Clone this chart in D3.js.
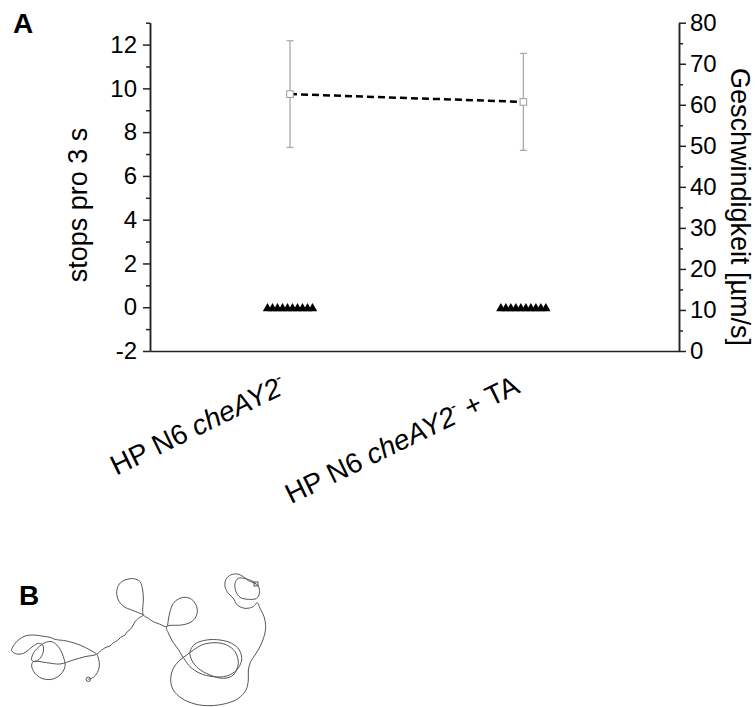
<!DOCTYPE html>
<html>
<head>
<meta charset="utf-8">
<script src="https://cdn.jsdelivr.net/npm/d3@7"></script>
<style>
  body { margin: 0; background: #fff; }
  svg { display: block; font-family: Arial, "Liberation Sans", sans-serif; }
</style>
</head>
<body>
<div id="chart"></div>
<script>

/*******************************/
/*    Data                     */
/*******************************/
// x labels, split in pieces: plain / italic / superscript
const categoryLabels = [
  [{t: "HP N6 "}, {t: "cheAY2", i: true}, {t: "-", sup: true}],
  [{t: "HP N6 "}, {t: "cheAY2", i: true}, {t: "-", sup: true}, {t: " + TA"}]
];

// speed (right axis), mean and standard deviation
const speedMean = [62.6, 60.7];
const speedSd = [13.0, 11.8];

// stops per 3 s (left axis), one value per cell
const stopsPerCell = [
  [0, 0, 0, 0, 0, 0, 0, 0, 0, 0],
  [0, 0, 0, 0, 0, 0, 0, 0, 0, 0]
];

const leftTicks = [-2, 0, 2, 4, 6, 8, 10, 12];
const leftMinorTicks = [-1, 1, 3, 5, 7, 9, 11, 13];
const rightTicks = [0, 10, 20, 30, 40, 50, 60, 70, 80];
const rightMinorTicks = [5, 15, 25, 35, 45, 55, 65, 75];

// panel B: tracked path of one cell (track units)
const trackX = [265, 280, 292, 298, 296, 290, 270, 240, 200, 165, 150, 125, 100, 75, 55, 40, 35, 50, 70, 85,
  100, 115, 128, 130, 120, 105, 95, 100, 115, 135, 155, 175, 190, 195, 180, 155, 125, 105, 95, 100,
  140, 180, 220, 255, 290, 305, 318, 330, 340, 352, 362, 375, 382, 392, 398, 405, 415, 430, 415, 395,
  372, 355, 350, 358, 375, 400, 420, 428, 430, 428, 430, 445, 460, 478, 500, 505, 510, 520, 535, 555,
  575, 588, 592, 585, 570, 545, 500, 508, 520, 535, 545, 555, 570, 600, 640, 680, 710, 725, 718, 695,
  660, 620, 585, 570, 575, 595, 630, 670, 700, 715, 705, 680, 645, 605, 580, 560, 540, 520, 512, 520,
  545, 585, 630, 680, 715, 738, 745, 745, 752, 765, 780, 792, 797, 792, 780, 772, 760, 735, 712, 700,
  685, 675, 678, 692, 712, 730, 745, 760, 775, 778, 770, 745, 720, 708, 705, 715, 740, 760, 768];
const trackY = [358, 352, 338, 318, 298, 283, 270, 255, 243, 238, 232, 228, 225, 228, 240, 258, 272, 282, 280, 270,
  258, 250, 255, 275, 295, 305, 300, 280, 262, 248, 245, 260, 290, 320, 345, 358, 355, 340, 318, 305,
  308, 312, 300, 290, 283, 270, 262, 258, 248, 242, 232, 225, 215, 207, 198, 185, 175, 165, 158, 150,
  140, 120, 95, 72, 60, 56, 65, 90, 120, 150, 165, 175, 185, 192, 200, 180, 155, 130, 117, 112,
  118, 135, 155, 175, 188, 195, 200, 225, 248, 268, 285, 300, 320, 340, 350, 348, 330, 300, 270, 250,
  240, 240, 252, 275, 300, 325, 345, 355, 345, 310, 275, 255, 248, 255, 270, 285, 300, 325, 360, 390,
  415, 432, 437, 430, 415, 390, 360, 330, 305, 285, 260, 230, 200, 170, 145, 128, 140, 145, 135, 115,
  100, 80, 58, 45, 42, 50, 62, 68, 78, 100, 115, 118, 112, 95, 70, 55, 57, 65, 72];

/*******************************/
/*    Constants                */
/*******************************/
const width = 755;
const height = 707;
const plot = {left: 150, right: 679, top: 22.7, bottom: 351};
const axisColor = "#222";
const errColor = "#aaa";

const svg = d3.select("#chart")
  .append("svg")
    .attr("width", width)
    .attr("height", height);

/*******************************/
/*    Scales                   */
/*******************************/
const xScale = d3.scaleLinear()
  .domain([-0.6, 1.667])
  .range([plot.left, plot.right]);

const yLeft = d3.scaleLinear()
  .domain([-2, 13])
  .range([plot.bottom, plot.top]);

const yRight = d3.scaleLinear()
  .domain([0, 80])
  .range([plot.bottom, plot.top]);

// horizontal spread of the single-cell triangles
const spread = d3.scalePoint()
  .domain(d3.range(10))
  .range([-22.5, 22.5]);

/*******************************/
/*    Axes                     */
/*******************************/
const styleAxis = (g) => {
  g.selectAll(".domain").attr("stroke", axisColor).attr("stroke-width", 1.5);
  g.selectAll(".tick line").attr("stroke", axisColor).attr("stroke-width", 1.5);
  g.selectAll("text")
    .attr("fill", "#000")
    .attr("font-size", 24)
    .attr("font-family", "Arial, 'Liberation Sans', sans-serif");
};

svg.append("g")
    .attr("transform", `translate(${plot.left},0)`)
    .call(d3.axisLeft(yLeft).tickValues(leftMinorTicks).tickSize(4).tickFormat("").tickSizeOuter(0))
    .call(styleAxis);
svg.append("g")
    .attr("transform", `translate(${plot.left},0)`)
    .call(d3.axisLeft(yLeft).tickValues(leftTicks).tickSize(7).tickPadding(6).tickFormat(d => String(d)).tickSizeOuter(0))
    .call(styleAxis);

svg.append("g")
    .attr("transform", `translate(${plot.right},0)`)
    .call(d3.axisRight(yRight).tickValues(rightMinorTicks).tickSize(4).tickFormat("").tickSizeOuter(0))
    .call(styleAxis);
svg.append("g")
    .attr("transform", `translate(${plot.right},0)`)
    .call(d3.axisRight(yRight).tickValues(rightTicks).tickSize(7).tickPadding(4).tickFormat(d => String(d)).tickSizeOuter(0))
    .call(styleAxis);

svg.append("g")
    .attr("transform", `translate(0,${plot.bottom})`)
    .call(d3.axisBottom(xScale).tickValues([]).tickSizeOuter(0))
    .call(styleAxis);

// rotated category labels
categoryLabels.forEach((parts, i) => {
  const t = svg.append("text")
      .attr("transform", `translate(${xScale(i) - 2},392) rotate(-26)`)
      .attr("text-anchor", "end")
      .attr("font-size", 28)
      .attr("fill", "#000");
  let raised = false;
  parts.forEach(p => {
    const s = t.append("tspan").text(p.t);
    if (p.i) s.attr("font-style", "italic");
    if (p.sup) { s.attr("font-size", 16).attr("dy", -12); raised = true; }
    else if (raised) { s.attr("dy", 12); raised = false; }
  });
});

// axis titles
svg.append("text")
    .attr("transform", "translate(87,205) rotate(-90)")
    .attr("text-anchor", "middle")
    .attr("font-size", 27)
    .text("stops pro 3 s");

svg.append("text")
    .attr("transform", "translate(731,207) rotate(90)")
    .attr("text-anchor", "middle")
    .attr("font-size", 27)
    .text("Geschwindigkeit [µm/s]");

/*******************************/
/*    Marks                    */
/*******************************/
// stops: black triangles, one per cell
stopsPerCell.forEach((vals, i) => {
  svg.append("g")
    .selectAll("path")
    .data(vals)
    .join("path")
      .attr("d", (d, j) => {
        const cx = xScale(i) + spread(j);
        const cy = yLeft(d);
        return `M${cx - 4.7},${cy + 4}L${cx},${cy - 4.2}L${cx + 4.7},${cy + 4}Z`;
      })
      .attr("fill", "#000");
});

// speed: error bars
const errG = svg.append("g").attr("stroke", errColor).attr("stroke-width", 1.3);
speedMean.forEach((m, i) => {
  const cx = xScale(i);
  const top = yRight(m + speedSd[i]);
  const bot = yRight(m - speedSd[i]);
  errG.append("line").attr("x1", cx).attr("x2", cx).attr("y1", top).attr("y2", bot);
  errG.append("line").attr("x1", cx - 3.5).attr("x2", cx + 3.5).attr("y1", top).attr("y2", top);
  errG.append("line").attr("x1", cx - 3.5).attr("x2", cx + 3.5).attr("y1", bot).attr("y2", bot);
});

// speed: dashed connecting line
const speedLine = d3.line()
  .x((d, i) => xScale(i))
  .y(d => yRight(d));
svg.append("path")
    .datum(speedMean)
    .attr("d", speedLine)
    .attr("fill", "none")
    .attr("stroke", "#000")
    .attr("stroke-width", 2.5)
    .attr("stroke-dasharray", "7,4");

// speed: open squares
svg.append("g")
  .selectAll("rect")
  .data(speedMean)
  .join("rect")
    .attr("x", (d, i) => xScale(i) - 3.3)
    .attr("y", d => yRight(d) - 3.3)
    .attr("width", 6.6)
    .attr("height", 6.6)
    .attr("fill", "#fff")
    .attr("stroke", "#999")
    .attr("stroke-width", 1);

/*******************************/
/*    Panel labels             */
/*******************************/
svg.append("text")
    .attr("x", 13).attr("y", 33)
    .attr("font-size", 28).attr("font-weight", "bold")
    .text("A");

svg.append("text")
    .attr("x", 19).attr("y", 605)
    .attr("font-size", 28).attr("font-weight", "bold")
    .text("B");

/*******************************/
/*    Panel B track            */
/*******************************/
const trackXScale = d3.scaleLinear().domain([0, 870]).range([0, 290]);
const trackYScale = d3.scaleLinear().domain([0, 441]).range([560, 707]);

const track = d3.range(trackX.length).map(i => [trackX[i], trackY[i]]);
svg.append("path")
    .datum(track)
    .attr("d", d3.line()
      .x(d => trackXScale(d[0]))
      .y(d => trackYScale(d[1]))
      .curve(d3.curveCatmullRom))
    .attr("fill", "none")
    .attr("stroke", "#555")
    .attr("stroke-width", 1);

// start circle and end square
const first = track[0];
const last = track[track.length - 1];
svg.append("circle")
    .attr("cx", trackXScale(first[0]))
    .attr("cy", trackYScale(first[1]))
    .attr("r", 2.2)
    .attr("fill", "none")
    .attr("stroke", "#555");
svg.append("rect")
    .attr("x", trackXScale(last[0]) - 2)
    .attr("y", trackYScale(last[1]) - 2)
    .attr("width", 4)
    .attr("height", 4)
    .attr("fill", "none")
    .attr("stroke", "#555");

</script>
</body>
</html>
